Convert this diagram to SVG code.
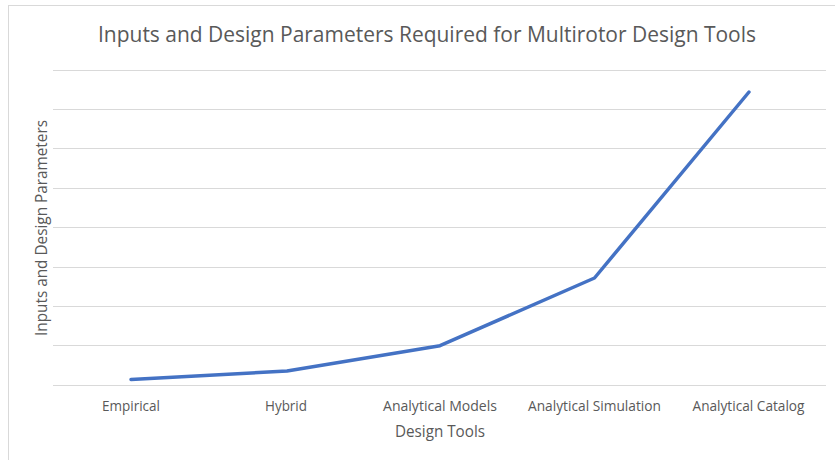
<svg xmlns="http://www.w3.org/2000/svg" width="835" height="460" viewBox="0 0 835 460">
<style>
.t{font-family:"Open Sans","Liberation Sans",sans-serif;fill:#595959}
.grid line{stroke:#d9d9d9;stroke-width:1}
.cat{font-size:14px;text-anchor:middle}
</style>
<rect width="835" height="460" fill="#fff"/>
<rect x="8.5" y="5.5" width="840" height="470" fill="none" stroke="#d9d9d9"/>
<text class="t" x="427" y="42" font-size="21" text-anchor="middle" textLength="658" lengthAdjust="spacingAndGlyphs">Inputs and Design Parameters Required for Multirotor Design Tools</text>
<g class="grid">
<line x1="53" y1="70.5" x2="826" y2="70.5"/>
<line x1="53" y1="109.5" x2="826" y2="109.5"/>
<line x1="53" y1="148.5" x2="826" y2="148.5"/>
<line x1="53" y1="188.5" x2="826" y2="188.5"/>
<line x1="53" y1="227.5" x2="826" y2="227.5"/>
<line x1="53" y1="267.5" x2="826" y2="267.5"/>
<line x1="53" y1="306.5" x2="826" y2="306.5"/>
<line x1="53" y1="345.5" x2="826" y2="345.5"/>
<line x1="53" y1="385.5" x2="826" y2="385.5"/>
</g>
<g id="series">
<polyline points="131,379.5 287,371 440,345.7 594.5,278 749,92" fill="none" stroke="#4472c4" stroke-width="3.5" stroke-linecap="round" stroke-linejoin="round"/>
</g>
<g id="categories">
<text class="t cat" x="131" y="411" textLength="58" lengthAdjust="spacingAndGlyphs">Empirical</text>
<text class="t cat" x="286" y="411" textLength="42" lengthAdjust="spacingAndGlyphs">Hybrid</text>
<text class="t cat" x="440" y="411" textLength="114" lengthAdjust="spacingAndGlyphs">Analytical Models</text>
<text class="t cat" x="594.5" y="411" textLength="133" lengthAdjust="spacingAndGlyphs">Analytical Simulation</text>
<text class="t cat" x="748.5" y="411" textLength="112" lengthAdjust="spacingAndGlyphs">Analytical Catalog</text>
</g>
<text class="t" x="440" y="437" font-size="16" text-anchor="middle" textLength="90" lengthAdjust="spacingAndGlyphs">Design Tools</text>
<text class="t" transform="translate(47,228) rotate(-90)" font-size="16" text-anchor="middle" textLength="216" lengthAdjust="spacingAndGlyphs">Inputs and Design Parameters</text>
</svg>
